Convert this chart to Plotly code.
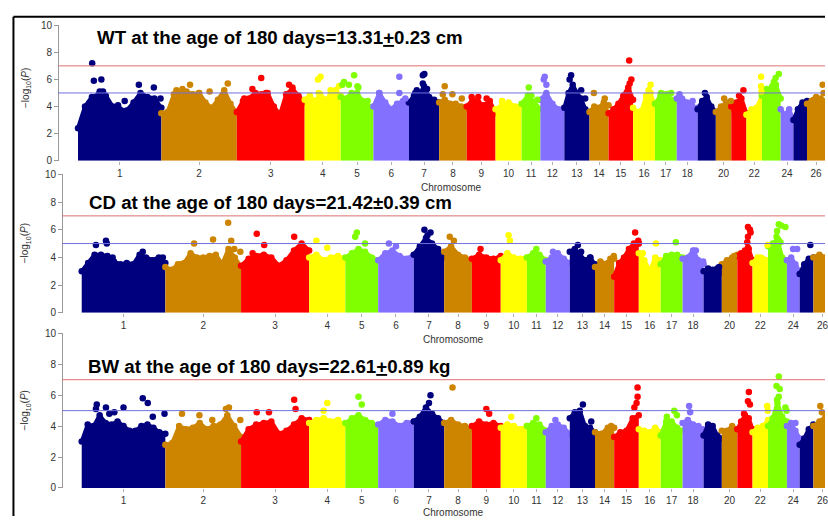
import plotly.graph_objects as go

# ---------------- data ----------------
CHROM_LEN = [275, 249, 224, 119, 108, 117, 100, 91, 95, 86, 62, 79, 83,
             63, 81, 72, 72, 69, 60, 51, 50, 51, 62, 42, 45, 60]
CHROM_LABELS = ["1", "2", "3", "4", "5", "6", "7", "8", "9", "10", "11", "12", "13",
                "14", "15", "16", "17", "18", "", "20", "", "22", "", "24", "", "26"]
PALETTE = ["#00007F", "#CD8500", "#FF0000", "#FFFF00", "#7FFF00", "#8470FF"]

TITLES = ["WT at the age of 180 days=13.31<u>+</u>0.23 cm",
          "CD at the age of 180 days=21.42±0.39 cm",
          "BW at the age of 180 days=22.61<u>+</u>0.89 kg"]
SUGGESTIVE = 5
SIGNIFICANT = 7
Y_TICKS = [0, 2, 4, 6, 8, 10]

# upper envelope of the dense SNP cloud, evenly spaced along each chromosome
ENV_WT = [
    [2.4, 4.0, 4.7, 4.9, 4.8, 4.0, 3.8, 3.7, 4.3, 5.0, 4.7, 4.6, 3.9],
    [3.5, 3.6, 4.9, 5.0, 5.1, 4.9, 5.0, 4.3, 3.9, 4.5, 5.2, 4.2, 3.5],
    [3.6, 4.4, 4.6, 5.0, 4.9, 5.0, 4.0, 3.4, 4.9, 5.3, 4.8, 4.3],
    [4.5, 4.8, 4.4, 4.9, 4.5, 4.8, 5.2, 4.8],
    [4.7, 4.6, 5.0, 5.0, 4.4, 4.0, 4.0],
    [4.0, 5.0, 4.3, 3.8, 4.2, 4.4, 4.3],
    [4.3, 4.8, 4.8, 5.5, 4.7, 4.5, 4.3],
    [4.3, 4.5, 4.2, 4.2, 4.0, 3.8],
    [4.0, 4.5, 4.3, 4.1, 4.4, 3.5],
    [3.8, 4.1, 4.3, 4.0, 4.1],
    [4.2, 4.8, 4.3, 3.8],
    [4.5, 5.0, 4.2, 3.8, 3.9],
    [3.9, 5.0, 5.6, 5.0, 4.6, 3.8, 3.6],
    [3.6, 4.0, 3.9, 4.3, 4.1],
    [3.5, 3.8, 4.2, 4.8, 5.4, 4.5],
    [3.9, 3.6, 3.7, 4.8, 5.0, 4.0],
    [4.2, 4.8, 4.9, 4.5, 4.4],
    [4.6, 4.6, 4.3, 4.0, 3.9],
    [3.8, 4.4, 4.7, 4.0, 3.6],
    [3.6, 4.0, 4.3, 3.8],
    [4.0, 4.3, 4.6, 3.5],
    [3.4, 3.8, 3.9, 4.8],
    [4.8, 5.3, 5.3, 5.6, 4.6],
    [3.8, 3.4, 3.8, 3.0],
    [3.0, 3.8, 4.3, 4.4],
    [4.2, 4.4, 4.7, 4.6, 4.4],
]
ENV_CD = [
    [3.0, 3.6, 4.2, 4.2, 4.1, 3.7, 3.5, 3.6, 3.5, 4.2, 4.0, 3.8, 4.0, 3.6],
    [3.3, 3.1, 3.5, 3.6, 4.3, 4.0, 4.0, 4.1, 4.2, 3.5, 4.6, 4.0, 3.3],
    [3.4, 3.9, 4.1, 4.2, 4.0, 3.4, 3.8, 4.5, 5.0, 4.5],
    [4.0, 4.2, 3.8, 4.0, 4.1, 3.9],
    [4.0, 4.3, 4.6, 4.4, 4.0, 3.8],
    [3.8, 4.3, 4.5, 4.1, 3.9, 4.2],
    [4.2, 4.8, 5.4, 5.0, 4.6, 4.0],
    [4.4, 4.8, 4.2, 4.0, 3.8],
    [3.9, 4.2, 4.0, 3.9, 4.1],
    [3.8, 4.3, 4.0, 3.9, 4.0],
    [4.0, 4.3, 4.2, 3.8],
    [3.7, 4.0, 4.3, 3.9, 3.6],
    [4.4, 4.6, 4.2, 3.8, 4.0, 3.5],
    [3.3, 3.6, 3.6, 3.9],
    [2.6, 3.6, 4.0, 4.6, 5.0, 5.0],
    [4.3, 3.8, 3.0, 4.0, 3.8],
    [3.5, 4.1, 4.2, 4.2, 4.0],
    [3.9, 4.0, 4.5, 3.8, 3.5],
    [3.0, 3.2, 3.1, 3.2, 2.9],
    [3.5, 3.8, 4.0, 4.2],
    [4.1, 4.3, 4.5, 4.6, 3.8],
    [3.6, 4.0, 3.9, 3.8],
    [4.8, 5.0, 5.3, 4.0, 3.8],
    [3.8, 4.0, 3.5, 3.0],
    [2.8, 3.5, 3.9, 4.0],
    [4.0, 4.2, 4.0, 4.0],
]
ENV_BW = [
    [3.0, 4.1, 4.0, 4.7, 4.2, 4.1, 4.3, 4.0, 3.7, 3.7, 4.0, 4.1, 3.9, 3.6, 3.5],
    [2.8, 2.9, 4.0, 3.8, 3.9, 4.2, 3.8, 4.0, 4.1, 4.7, 4.0, 3.3],
    [3.0, 3.8, 4.1, 4.2, 4.3, 3.5, 3.7, 4.1, 4.5, 4.4],
    [4.2, 4.4, 4.5, 4.3, 4.4, 4.0],
    [4.2, 4.5, 4.7, 4.4, 4.2, 4.0],
    [4.1, 4.4, 4.3, 4.0, 4.2, 4.3],
    [4.3, 4.6, 5.2, 4.8, 4.5, 4.2],
    [4.2, 4.4, 4.1, 4.0, 3.8],
    [4.0, 4.3, 4.1, 4.2, 4.0],
    [3.9, 4.1, 4.0, 3.8, 4.0],
    [4.0, 4.2, 4.1, 3.7],
    [3.6, 4.0, 4.1, 3.9, 3.5],
    [4.5, 4.9, 5.0, 4.0, 3.9, 3.6],
    [3.6, 3.5, 3.9, 3.9],
    [3.3, 3.6, 3.7, 4.5, 4.7],
    [3.8, 3.7, 3.6, 3.9, 3.6],
    [3.4, 4.3, 4.3, 3.9, 3.7],
    [4.2, 4.4, 4.1, 4.0, 3.8],
    [3.4, 4.1, 4.0, 3.4, 3.2],
    [3.7, 3.7, 4.0, 3.8],
    [3.8, 4.3, 4.7, 4.5, 3.8],
    [3.6, 3.9, 4.0, 4.4],
    [4.0, 4.5, 5.5, 4.6, 4.3],
    [4.0, 4.2, 3.7, 3.2],
    [2.8, 3.2, 3.8, 4.1],
    [4.0, 4.3, 4.6, 4.4],
]

# isolated top SNPs: (chromosome, relative position along chromosome, -log10 P)
TOP_WT = [
    (1, .17, 7.2), (1, .19, 5.9), (1, .28, 6.0), (1, .26, 5.1), (1, .30, 5.1), (1, .48, 4.1),
    (1, .56, 4.4), (1, .73, 5.6), (1, .91, 5.4), (1, .99, 4.6),
    (2, .20, 5.2), (2, .28, 5.3), (2, .38, 5.6), (2, .50, 5.0), (2, .64, 5.1), (2, .88, 5.7),
    (3, .11, 4.6), (3, .23, 5.3), (3, .36, 6.1), (3, .43, 5.0), (3, .77, 5.6), (3, .82, 5.4),
    (4, .37, 6.0), (4, .39, 5.0), (4, .44, 6.2), (4, .72, 5.2), (4, .95, 5.5),
    (5, .05, 5.6), (5, .10, 5.8), (5, .25, 5.6), (5, .41, 6.3), (5, .51, 5.5), (5, .54, 5.4), (5, .82, 4.4),
    (6, .16, 5.0), (6, .73, 6.2), (6, .73, 5.0), (6, .90, 4.6),
    (7, .21, 5.0), (7, .26, 5.2), (7, .46, 6.3), (7, .46, 5.7), (7, .51, 6.4), (7, .60, 5.3),
    (8, .13, 4.9), (8, .20, 5.5), (8, .48, 4.9), (8, .82, 4.6),
    (9, .17, 4.7), (9, .40, 4.7), (9, .69, 4.6),
    (10, .25, 4.4),
    (11, .38, 5.4), (11, .52, 4.8), (11, .84, 4.5),
    (12, .14, 6.0), (12, .18, 6.2), (12, .25, 5.6),
    (13, .21, 6.0), (13, .27, 6.3), (13, .67, 5.2), (13, .83, 4.6),
    (14, .23, 5.0), (14, .80, 4.6),
    (15, .80, 5.3), (15, .84, 7.4), (15, .86, 5.7), (15, .93, 6.0),
    (16, .71, 5.2), (16, .80, 5.6),
    (17, .28, 5.0), (17, .62, 4.9), (17, .74, 5.0),
    (18, .13, 4.9), (18, .76, 4.4),
    (19, .40, 5.0),
    (20, .54, 4.6), (20, .97, 4.4),
    (21, .51, 4.8), (21, .80, 5.2),
    (22, .95, 6.2), (22, .95, 5.5), (22, .97, 5.1),
    (23, .46, 5.3), (23, .55, 5.5), (23, .64, 5.8), (23, .73, 6.1), (23, .90, 6.4),
    (26, .37, 4.5), (26, .86, 5.6), (26, .91, 5.0),
]
TOP_CD = [
    (1, .17, 4.9), (1, .29, 5.2), (1, .30, 5.0), (1, .37, 4.0), (1, .73, 4.4), (1, .97, 4.0),
    (2, .21, 3.5), (2, .38, 5.0), (2, .63, 5.3), (2, .83, 6.5), (2, .87, 5.2), (2, .91, 4.6), (2, .99, 4.4),
    (3, .17, 4.3), (3, .23, 5.7), (3, .34, 4.9), (3, .78, 5.5),
    (4, .20, 5.2), (4, .50, 4.7),
    (5, .30, 5.5), (5, .35, 5.8), (5, .60, 5.0),
    (6, .30, 5.0), (6, .50, 4.8),
    (7, .35, 6.0), (7, .45, 5.6), (7, .55, 5.8),
    (8, .20, 5.5), (8, .35, 5.2),
    (9, .30, 4.6),
    (10, .30, 5.6), (10, .35, 5.2),
    (11, .50, 4.6),
    (12, .30, 4.4),
    (13, .32, 4.9), (13, .45, 4.4), (13, .82, 4.0),
    (14, .28, 3.7), (14, .80, 3.9), (14, .98, 4.1),
    (15, .85, 5.8), (15, .98, 5.2), (15, .99, 5.0),
    (16, .18, 4.3), (16, .78, 5.0),
    (17, .69, 5.1),
    (18, .63, 4.5), (18, .98, 3.7),
    (19, .85, 3.3),
    (20, .79, 4.1),
    (21, .65, 5.1), (21, .70, 4.7), (21, .70, 5.5), (21, .70, 6.2), (21, .83, 6.0), (21, .87, 5.8),
    (22, .52, 4.0), (22, .97, 4.9),
    (23, .45, 5.5), (23, .48, 5.9), (23, .54, 5.3), (23, .57, 6.4), (23, .66, 5.1), (23, .69, 6.3), (23, .92, 6.2),
    (24, .48, 4.6), (24, .80, 4.6),
    (25, .78, 4.9),
]
TOP_BW = [
    (1, .17, 5.1), (1, .18, 5.4), (1, .29, 5.2), (1, .33, 4.8), (1, .39, 4.9), (1, .50, 5.2),
    (1, .73, 5.8), (1, .79, 5.5), (1, .85, 4.6), (1, .99, 4.8),
    (2, .22, 4.8), (2, .45, 4.7), (2, .62, 4.4), (2, .80, 5.1), (2, .84, 5.2), (2, .99, 4.4),
    (3, .23, 4.9), (3, .41, 4.9), (3, .78, 5.7), (3, .80, 5.1),
    (4, .40, 5.0), (4, .50, 5.5),
    (5, .40, 5.9), (5, .50, 5.4),
    (6, .40, 4.8),
    (7, .50, 5.5), (7, .55, 6.0),
    (8, .30, 6.5),
    (9, .50, 5.1), (9, .60, 4.8),
    (10, .40, 4.6),
    (11, .50, 4.5),
    (12, .40, 4.4),
    (13, .52, 5.4), (13, .85, 4.3),
    (14, .84, 4.0),
    (15, .82, 5.2), (15, .91, 5.5), (15, .95, 5.9), (15, .95, 6.5),
    (17, .28, 4.6), (17, .62, 5.0), (17, .74, 4.7),
    (18, .31, 5.3), (18, .36, 4.9),
    (21, .44, 4.8), (21, .70, 5.6), (21, .76, 6.2), (21, .83, 5.4),
    (22, .95, 5.3), (22, .98, 5.0),
    (23, .45, 6.6), (23, .48, 5.7), (23, .57, 7.2), (23, .57, 5.9), (23, .62, 6.4), (23, .92, 5.2), (23, .98, 5.0),
    (24, .67, 4.2),
    (26, .38, 5.3), (26, .47, 4.9),
]

ENVELOPES = [ENV_WT, ENV_CD, ENV_BW]
TOPS = [TOP_WT, TOP_CD, TOP_BW]

# ---------------- layout constants ----------------
W, H = 828, 522
X_RANGES = [(-257.5, 2465.3), (-268.7, 2444.3), (-268.7, 2444.3)]
Y_DOMAINS = [(0.6967, 0.9623), (0.3985, 0.6699), (0.0550, 0.3582)]
Y_AXIS_POS = [0.0704, 0.0752, 0.0752]
TITLE_POS = [(95, 32), (87, 201.5), (86, 368.5)]      # px (left, middle)
XLAB_POS = [(453, 185.5), (455, 341.5), (455, 518)]
YLAB_POS = [(26, 84), (26, 243), (26, 414)]
FONT = "Arial, 'Liberation Sans', Helvetica, sans-serif"

starts = []
acc = 0
for L in CHROM_LEN:
    starts.append(acc)
    acc += L
labelled = [i for i, t in enumerate(CHROM_LABELS) if t]
tick_vals = [starts[i] + CHROM_LEN[i] / 2 for i in labelled]
tick_text = [CHROM_LABELS[i] for i in labelled]

fig = go.Figure()

for p in range(3):
    xa = "x" if p == 0 else f"x{p+1}"
    ya = "y" if p == 0 else f"y{p+1}"
    env = ENVELOPES[p]
    for c, heights in enumerate(env):
        n = len(heights)
        xs = [starts[c] + CHROM_LEN[c] * i / (n - 1) for i in range(n)]
        col = PALETTE[c % len(PALETTE)]
        fig.add_trace(go.Scatter(
            x=xs, y=heights, xaxis=xa, yaxis=ya, mode="lines+markers",
            fill="tozeroy", fillcolor=col,
            line=dict(color=col, width=4),
            marker=dict(color=col, size=6.5),
            showlegend=False, hoverinfo="skip"))
    tops = TOPS[p]
    fig.add_trace(go.Scatter(
        x=[starts[c - 1] + CHROM_LEN[c - 1] * f for c, f, v in tops],
        y=[v for c, f, v in tops],
        xaxis=xa, yaxis=ya, mode="markers",
        marker=dict(color=[PALETTE[(c - 1) % len(PALETTE)] for c, f, v in tops], size=6.5),
        showlegend=False, hoverinfo="skip"))

layout = dict(
    width=W, height=H,
    margin=dict(l=0, r=0, t=0, b=0),
    paper_bgcolor="white", plot_bgcolor="rgba(0,0,0,0)",
    font=dict(family=FONT, color="#333333"),
    showlegend=False,
)
annotations = []
shapes = []
for p in range(3):
    sx = "" if p == 0 else str(p + 1)
    layout["xaxis" + sx] = dict(
        domain=[0, 1], range=list(X_RANGES[p]), anchor="y" + sx,
        tickmode="array", tickvals=tick_vals, ticktext=tick_text,
        ticks="outside", ticklen=3, tickcolor="#b0b0b0", tickwidth=1,
        ticklabeloverflow="allow",
        showline=False, showgrid=False, zeroline=False,
        tickfont=dict(size=10, color="#333333"), fixedrange=True)
    layout["yaxis" + sx] = dict(
        domain=list(Y_DOMAINS[p]), range=[0, 10], anchor="free", position=Y_AXIS_POS[p],
        tickmode="array", tickvals=Y_TICKS,
        ticks="outside", ticklen=4, tickcolor="#999999",
        showline=True, linecolor="#999999", linewidth=1,
        showgrid=False, zeroline=False,
        tickfont=dict(size=10, color="#333333"), fixedrange=True)
    for val, col in ((SIGNIFICANT, "#E07070"), (SUGGESTIVE, "#7070E0")):
        shapes.append(dict(type="line", xref="paper", yref="y" + sx,
                           x0=Y_AXIS_POS[p], x1=1, y0=val, y1=val,
                           line=dict(color=col, width=1), layer="above"))
    tx, ty = TITLE_POS[p]
    annotations.append(dict(text="<b>" + TITLES[p] + "</b>", xref="paper", yref="paper",
                            x=tx / W, y=1 - ty / H, xanchor="left", yanchor="middle",
                            showarrow=False, font=dict(size=18.7, color="black", family=FONT)))
    lx, ly = XLAB_POS[p]
    annotations.append(dict(text="Chromosome", xref="paper", yref="paper",
                            x=lx / W, y=1 - ly / H, xanchor="center", yanchor="middle",
                            showarrow=False, font=dict(size=10, color="#333333")))
    yx, yy = YLAB_POS[p]
    annotations.append(dict(text="\u2212log<sub>10</sub>(<i>P</i>)", xref="paper", yref="paper",
                            x=yx / W, y=1 - yy / H, xanchor="center", yanchor="middle",
                            textangle=-90, showarrow=False,
                            font=dict(size=10, color="#333333")))

# frame of the cropped figure (top and left edges)
shapes.append(dict(type="line", xref="paper", yref="paper", x0=13.5 / W, x1=1,
                   y0=1 - 11 / H, y1=1 - 11 / H, line=dict(color="black", width=2)))
shapes.append(dict(type="line", xref="paper", yref="paper", x0=13.5 / W, x1=13.5 / W,
                   y0=0, y1=1 - 11 / H, line=dict(color="black", width=2)))

layout["annotations"] = annotations
layout["shapes"] = shapes
fig.update_layout(**layout)

fig.write_html("out.html", config={"displayModeBar": False, "staticPlot": True},
               post_script="document.body.style.margin='0px';document.body.style.overflow='hidden';")
